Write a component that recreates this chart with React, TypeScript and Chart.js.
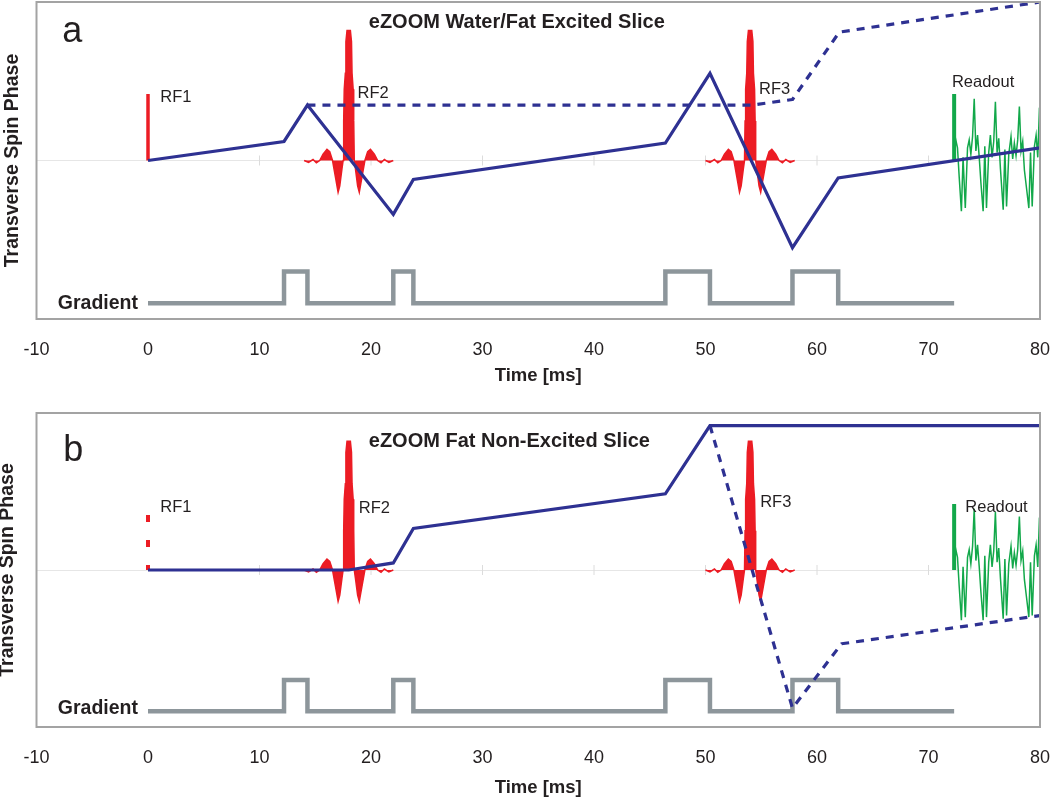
import React, { useEffect, useRef } from "react";
import { Chart, registerables } from "chart.js";

Chart.register(...registerables);

// ---------- data ----------
const xMin = -10;
const xMax = 80;
const xStep = 10;
const zeroTickMarks = [10, 20, 30, 40, 50, 60, 70];

// gradient waveform (stepped): level after each time
const gradientTimes = [0, 12.2, 14.3, 22.0, 23.8, 46.4, 50.4, 57.8, 61.9, 72.3];
const gradientLevels = [-9, -7, -9, -7, -9, -7, -9, -7, -9, -9];

// RF sinc pulse shape (offset from pulse centre in ms, amplitude)
const rfOffsets = [-4.0, -3.6, -3.2, -2.9, -2.6, -2.3, -1.95, -1.7, -1.45, -1.2, -0.95, -0.8, -0.6, -0.5, -0.45, -0.4, -0.3, -0.25, -0.15, 0.15, 0.25, 0.3, 0.4, 0.45, 0.5, 0.6, 0.8, 0.95, 1.2, 1.45, 1.7, 1.95, 2.3, 2.6, 2.9, 3.2, 3.6, 4.0];
const rfAmplitudes = [0, -0.12, 0.06, -0.15, 0, 0.4, 0.7, 0.55, 0, -1.0, -2.0, -1.6, -0.5, 0, 2.5, 4.5, 5.5, 7.5, 8.2, 8.2, 7.5, 5.5, 4.5, 2.5, 0, -0.5, -1.6, -2.0, -1.0, 0, 0.55, 0.7, 0.4, 0, -0.15, 0.06, -0.12, 0];
const rf2Center = 18;
const rf3Center = 54;

const rf1TimesA = [0, 0];
const rf1LevelsA = [0, 4.2];
const rf1TimesB = [0, 0];
const rf1LevelsB = [3.5, 0];

const readoutBarTimes = [72.3, 72.3];
const readoutBarLevels = [0, 4.2];
const readoutTimes = [72.3, 72.45, 72.6, 72.75, 72.95, 73.1, 73.3, 73.5, 73.65, 73.8, 73.95, 74.1, 74.25, 74.4, 74.55, 74.7, 74.9, 75.05, 75.2, 75.4, 75.55, 75.7, 75.85, 76.0, 76.15, 76.3, 76.45, 76.7, 76.85, 77.0, 77.2, 77.4, 77.55, 77.7, 77.85, 78.0, 78.15, 78.3, 78.45, 78.6, 78.8, 79.0, 79.15, 79.3, 79.5, 79.65, 79.8, 79.95, 80.0];
const readoutLevels = [0, 1.3, 0.8, -1.0, -3.2, 0.2, -3.0, 0.8, 1.3, 0.4, 1.5, 3.9, 0.6, 1.6, 0.2, -1.4, -3.2, 0.9, -3.0, 0.5, 1.6, 0.2, 1.2, 3.7, 0.5, 1.4, -0.5, -3.1, 0.7, -2.9, 0.4, 1.5, 0.1, 1.1, 0.3, 1.3, 3.4, 0.6, 1.2, -0.6, -1.8, -3.0, 0.5, -2.9, 0.9, 1.6, 0.2, 3.3, 3.4];

// panel a: water/fat excited slice
const phaseTimesA = [0, 12.2, 14.3, 22.0, 23.8, 46.4, 50.4, 57.8, 61.9, 80];
const phaseLevelsA = [0, 1.2, 3.5, -3.4, -1.2, 1.1, 5.5, -5.5, -1.1, 0.8];
const dashedTimesA = [14.3, 54.2, 57.8, 62.0, 80];
const dashedLevelsA = [3.5, 3.5, 3.85, 8.1, 10];

// panel b: fat non-excited slice
const phaseTimesB = [0, 18, 22.0, 23.8, 46.4, 50.4, 80];
const phaseLevelsB = [0, 0, 0.45, 2.65, 4.85, 9.2, 9.2];
const dashedTimesB = [50.4, 57.8, 62.2, 80];
const dashedLevelsB = [9.2, -8.8, -4.7, -2.9];

// text labels
const pulseLabels = ["RF1", "RF2", "RF3", "Readout"];
const pulseLabelXA = [1.1, 18.8, 54.8, 72.1];
const pulseLabelYA = [4.0, 4.2, 4.5, 4.9];
const pulseLabelXB = [1.1, 18.9, 54.9, 73.3];
const pulseLabelYB = [4.0, 3.95, 4.3, 4.0];
const titleA = "eZOOM Water/Fat Excited Slice";
const titleB = "eZOOM Fat Non-Excited Slice";
const xTitle = "Time [ms]";
const yTitle = "Transverse Spin Phase";
const gradientLabel = "Gradient";

// ---------- styling ----------
const FONT = "'Liberation Sans', Arial, Helvetica, sans-serif";
const TEXT = "#231f20";
const BLUE = "#2e3192";
const RED = "#ec1c24";
const GREEN = "#12a84a";
const GRAY = "#8d969b";

const pts = (xs: number[], ys: number[]) => xs.map((x, i) => ({ x, y: ys[i] }));
const rfPoints = (c: number) => rfOffsets.map((o, i) => ({ x: c + o, y: rfAmplitudes[i] }));

type Mark = { text: string; x: number; y: number; font: string; align: CanvasTextAlign; baseline: CanvasTextBaseline };

const framePlugin = {
  id: "frame",
  afterDatasetsDraw(chart: any) {
    const { ctx, chartArea } = chart;
    ctx.save();
    ctx.strokeStyle = "#a3a3a3";
    ctx.lineWidth = 2;
    ctx.strokeRect(chartArea.left, chartArea.top, chartArea.right - chartArea.left, chartArea.bottom - chartArea.top);
    ctx.restore();
  },
};

const makeTextPlugin = (marks: Mark[]) => ({
  id: "textMarks",
  afterDatasetsDraw(chart: any) {
    const { ctx, scales } = chart;
    ctx.save();
    ctx.fillStyle = TEXT;
    for (const m of marks) {
      ctx.font = m.font;
      ctx.textAlign = m.align;
      ctx.textBaseline = m.baseline;
      ctx.fillText(m.text, scales.x.getPixelForValue(m.x), scales.y.getPixelForValue(m.y));
    }
    ctx.restore();
  },
});

const lineDs = (data: any[], color: string, width: number, order: number, extra: any = {}) => ({
  data,
  showLine: true,
  borderColor: color,
  backgroundColor: color,
  borderWidth: width,
  pointRadius: 0,
  pointHoverRadius: 0,
  tension: 0,
  borderJoinStyle: "miter",
  order,
  ...extra,
});

function buildConfig(panel: "a" | "b"): any {
  const isA = panel === "a";
  const labelX = isA ? pulseLabelXA : pulseLabelXB;
  const labelY = isA ? pulseLabelYA : pulseLabelYB;
  const marks: Mark[] = pulseLabels.map((t, i) => ({
    text: t, x: labelX[i], y: labelY[i], font: `16.5px ${FONT}`, align: "left", baseline: "middle",
  }));
  marks.push({ text: isA ? titleA : titleB, x: 19.8, y: isA ? 8.7 : 8.2, font: `bold 20px ${FONT}`, align: "left", baseline: "middle" });
  marks.push({ text: panel, x: isA ? -7.7 : -7.6, y: isA ? 7.47 : 6.94, font: `36px ${FONT}`, align: "left", baseline: "alphabetic" });
  marks.push({ text: gradientLabel, x: -0.9, y: isA ? -9.0 : -8.8, font: `bold 19.5px ${FONT}`, align: "right", baseline: "middle" });

  const datasets: any[] = [
    lineDs(pts(isA ? phaseTimesA : phaseTimesB, isA ? phaseLevelsA : phaseLevelsB), BLUE, 3.2, 0),
    lineDs(pts(isA ? dashedTimesA : dashedTimesB, isA ? dashedLevelsA : dashedLevelsB), BLUE, 3.2, 1, { borderDash: [8, 7], borderJoinStyle: "round" }),
    lineDs(rfPoints(rf2Center), RED, 1.5, 3, { fill: "origin", backgroundColor: RED }),
    lineDs(rfPoints(rf3Center), RED, 1.5, 3, { fill: "origin", backgroundColor: RED }),
    lineDs(pts(isA ? rf1TimesA : rf1TimesB, isA ? rf1LevelsA : rf1LevelsB), RED, isA ? 3.5 : 4, 3, isA ? {} : { borderDash: [7, 18], borderCapStyle: "butt" }),
    lineDs(pts(readoutBarTimes, readoutBarLevels), GREEN, 4, 3),
    lineDs(pts(readoutTimes, readoutLevels), GREEN, 1.5, 3),
    lineDs(pts(gradientTimes, gradientLevels), GRAY, 4.5, 4, { stepped: "before" }),
    {
      data: zeroTickMarks.map((x) => ({ x, y: 0 })),
      showLine: false,
      pointStyle: "line",
      rotation: 90,
      pointRadius: 5,
      pointHoverRadius: 5,
      borderColor: "#dcdcdc",
      borderWidth: 1,
      order: 6,
    },
  ];

  return {
    type: "scatter",
    data: { datasets },
    options: {
      responsive: false,
      animation: false,
      events: [],
      layout: {
        autoPadding: false,
        padding: isA ? { left: 0, right: 10, top: 2, bottom: 10 } : { left: 0, right: 10, top: 13, bottom: 0 },
      },
      plugins: { legend: { display: false }, tooltip: { enabled: false } },
      scales: {
        x: {
          type: "linear",
          min: xMin,
          max: xMax,
          afterFit: (s: any) => {
            s.paddingLeft = 0;
            s.paddingRight = 0;
          },
          grid: { display: false, drawTicks: false },
          border: { display: false },
          ticks: { stepSize: xStep, color: TEXT, font: { family: FONT, size: 18 }, padding: 20.2, maxRotation: 0, autoSkip: false },
          title: {
            display: true,
            text: xTitle,
            color: TEXT,
            font: { family: FONT, size: 18.5, weight: "bold" },
            padding: isA ? { top: -16.1, bottom: 2.9 } : { top: -12.1, bottom: 0.9 },
          },
        },
        y: {
          type: "linear",
          min: -10,
          max: 10,
          afterFit: (s: any) => {
            s.paddingTop = 0;
            s.paddingBottom = 0;
          },
          grid: {
            drawTicks: false,
            lineWidth: 1,
            color: (c: any) => (c.tick && c.tick.value === 0 ? "#e6e6e6" : "rgba(0,0,0,0)"),
          },
          border: { display: false },
          ticks: { display: false, stepSize: 10 },
          title: {
            display: true,
            text: yTitle,
            color: TEXT,
            font: { family: FONT, size: 19.5, weight: "bold" },
            padding: isA ? { top: 1.3, bottom: 11.8 } : { top: -3.7, bottom: 16.8 },
          },
        },
      },
    },
    plugins: [framePlugin, makeTextPlugin(marks)],
  };
}

function Panel({ panel, top }: { panel: "a" | "b"; top: number }) {
  const ref = useRef<HTMLCanvasElement>(null);
  useEffect(() => {
    if (!ref.current) return;
    const chart = new Chart(ref.current, buildConfig(panel));
    return () => chart.destroy();
  }, [panel]);
  return (
    <canvas
      ref={ref}
      width={1050}
      height={400}
      style={{ position: "absolute", left: 0, top, width: 1050, height: 400, display: "block" }}
    />
  );
}

export default function App() {
  return (
    <div style={{ position: "absolute", left: 0, top: 0, width: 1050, height: 800, background: "#ffffff" }}>
      <Panel panel="a" top={0} />
      <Panel panel="b" top={400} />
    </div>
  );
}
